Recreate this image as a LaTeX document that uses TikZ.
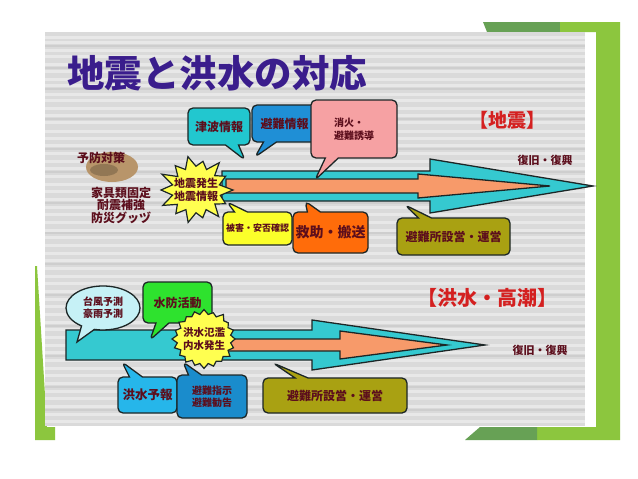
\documentclass[tikz,border=0pt]{standalone}
\usepackage{fontspec}
\newfontfamily\jp{Noto Sans CJK JP}
\usetikzlibrary{shapes.callouts,shapes.geometric}
\definecolor{panel}{HTML}{DADADA}
\definecolor{gdark}{HTML}{67A155}
\definecolor{glight}{HTML}{8CC63E}
\definecolor{ttl}{HTML}{3A1D8C}
\definecolor{redl}{HTML}{D42020}
\definecolor{txt}{HTML}{5C0E1C}
\definecolor{edge}{HTML}{1C2626}
\definecolor{arrcyan}{HTML}{35C9D0}
\definecolor{arrorange}{HTML}{F79A6A}
\definecolor{ccyan}{HTML}{22C7CF}
\definecolor{cblue}{HTML}{1F8FD6}
\definecolor{cpink}{HTML}{F6A1A3}
\definecolor{cyellow}{HTML}{FBFF2A}
\definecolor{corange}{HTML}{FF6C0A}
\definecolor{colive}{HTML}{A9A112}
\definecolor{clcyan}{HTML}{C6F1F6}
\definecolor{cgreen}{HTML}{2EE22E}
\definecolor{csky}{HTML}{26B6EA}
\definecolor{cdblue}{HTML}{1A8CCC}
\definecolor{burstyel}{HTML}{FFFF50}
\definecolor{blob}{HTML}{B8956A}
\newcommand\fsz[2]{\jp\bfseries\fontsize{#1}{#2}\selectfont}
\begin{document}
\begin{tikzpicture}[x=1pt,y=-1pt,
  co/.style={rectangle callout, draw=edge, line width=1.3pt, rounded corners=5pt,
    callout pointer width=13pt, inner sep=1pt, align=center, text=txt},
  eco/.style={ellipse callout, draw=edge, line width=1.3pt,
    callout pointer arc=22, inner sep=1pt, align=center, text=txt},
  arr/.style={draw=edge, line width=1.3pt, line join=miter},
  burst/.style={draw=edge, line width=1.2pt, fill=burstyel, line join=miter},
  lbl/.style={text=txt, align=center, inner sep=0pt},
  red/.style={text=redl, inner sep=0pt}]
\useasboundingbox (0,0) rectangle (638,479);
\fill[white] (0,0) rectangle (638,479);
% green decorations
\fill[gdark] (483,22) -- (560,22) -- (560,32) -- (487,32) -- cycle;
\fill[glight] (560,22) -- (620,22) -- (620,440) -- (537,440) -- (537,427) -- (596,427) -- (596,32) -- (560,32) -- cycle;
\fill[gdark] (480,427) -- (537,427) -- (537,440) -- (465,440) -- cycle;
\fill[glight] (35,266) -- (37,266) -- (47,427) -- (55,427) -- (55,440) -- (35,440) -- cycle;
% panel
\fill[panel] (45,32) rectangle (585,426);
\foreach \yy in {36,41,49,55,63,70,78,84,93,99,107,114,121,130,137,144,152,160,167,175,183,190,198,206,213,221,229,236,244,252,259,267,275,282,290,298,305,313,321,328,336,344,351,359,367,374,382,390,397,405,413,420}
  \fill[white,opacity=0.4] (45,\yy) rectangle (585,{\yy+2.5});
\foreach \yy in {45,67,88,118,148,171,202,232,263,294,325,355,386,409}
  \fill[black,opacity=0.05] (45,\yy) rectangle (585,{\yy+1.5});
% title
\node[anchor=west, inner sep=0pt, text=ttl, font=\fsz{37.5}{40}] (title) at (67,73) {地震と洪水の対応};
% earthquake section labels
\node[red, font=\fsz{19}{22}] (quake) at (507,120) {【地震】};
\node[lbl, font=\fsz{11}{13}] (fukkyu1) at (545,160) {復旧・復興};
\fill[blob] (112,167) ellipse [x radius=26pt, y radius=15pt];
\fill[black!40!blob,opacity=0.5] (104,170) ellipse [x radius=14pt, y radius=6pt];
\node[lbl, font=\fsz{12}{14}] (yobo) at (101,158) {予防対策};
\node[lbl, font=\fsz{12}{12.5}] (kagu) at (121,205) {家具類固定\\耐震補強\\防災グッヅ};
% top arrow
\draw[arr, fill=arrcyan] (222,171) -- (430,171) -- (430,159) -- (593,186) -- (430,213) -- (430,201) -- (222,201) -- cycle;
\draw[arr, fill=arrorange] (226,179) -- (418,179) -- (418,174) -- (550,186) -- (418,198) -- (418,193) -- (226,193) -- cycle;
% top callouts
\node[co, fill=ccyan, minimum width=62pt, minimum height=37pt, font=\fsz{12}{14},
  callout absolute pointer={(245,160)}] (tsunami) at (219,126.5) {津波情報};
\node[co, fill=cblue, minimum width=65pt, minimum height=37pt, font=\fsz{12}{14},
  callout absolute pointer={(255,157)}] (hinan) at (284.5,123.5) {避難情報};
\node[co, fill=cpink, minimum width=86pt, minimum height=58pt, font=\fsz{10}{13}, align=left,
  callout absolute pointer={(315,180)}] (shoka) at (354,129) {消火・\\避難誘導};
\node[co, fill=cyellow, minimum width=69pt, minimum height=33pt, font=\fsz{9}{11},
  callout absolute pointer={(227,202)}] (higai) at (257.5,228.5) {被害・安否確認};
\node[co, fill=corange, minimum width=75pt, minimum height=41pt, font=\fsz{14}{16},
  callout absolute pointer={(305,201)}] (kyujo) at (330.5,232.5) {救助・搬送};
\node[co, fill=colive, minimum width=113pt, minimum height=37pt, font=\fsz{12}{14},
  callout absolute pointer={(405,205)}] (hinanjo1) at (453.5,236.5) {避難所設営・運営};
% top starburst
\coordinate (b1) at (196,190);
\begin{scope}[shift={(b1)}, yscale=0.95]
\draw[burst] (0:37) \foreach \a/\r in {13/25, 26/33, 38/24, 51/36, 64/23, 77/30, 90/24, 103/35, 116/23, 129/32, 141/24, 154/37, 167/24, 180/35, 193/24, 206/38, 218/23, 231/33, 244/24, 257/36, 270/25, 283/31, 296/24, 309/37, 321/24, 334/33, 347/24} { -- (\a:\r) } -- cycle;
\end{scope}
\node[lbl, font=\fsz{11}{13}] (jishin) at (b1) {地震発生\\地震情報};
% flood section labels
\node[red, font=\fsz{20}{23}] (flood) at (487,298) {【洪水・高潮】};
\node[lbl, font=\fsz{11}{13}] (fukkyu2) at (540,350) {復旧・復興};
% lower arrow
\draw[arr, fill=arrcyan] (66,330) -- (312,330) -- (312,320) -- (485,345) -- (312,370) -- (312,360) -- (66,360) -- cycle;
\draw[arr, fill=arrorange] (228,339) -- (340,339) -- (340,331) -- (447,345) -- (340,359) -- (340,351) -- (228,351) -- cycle;
% lower callouts
\node[eco, fill=clcyan, minimum width=74pt, minimum height=44pt, font=\fsz{10}{12},
  callout absolute pointer={(77,342)}] (taifu) at (103,308) {台風予測\\豪雨予測};
\node[co, fill=cgreen, minimum width=69pt, minimum height=41pt, font=\fsz{12}{14},
  callout absolute pointer={(150,340)}] (suibo) at (177.5,302.5) {水防活動};
\node[co, fill=csky, minimum width=59pt, minimum height=36pt, font=\fsz{12.5}{14},
  callout absolute pointer={(122,362)}] (yoho) at (147.5,395) {洪水予報};
\node[co, fill=cdblue, minimum width=70pt, minimum height=43pt, font=\fsz{10}{12},
  callout absolute pointer={(183,362)}] (shiji) at (212,396.5) {避難指示\\避難勧告};
\node[co, fill=colive, minimum width=144pt, minimum height=35pt, font=\fsz{12}{14},
  callout absolute pointer={(273,363)}] (hinanjo2) at (335,395.5) {避難所設営・運営};
% lower starburst
\coordinate (b2) at (204,339);
\begin{scope}[shift={(b2)}, yscale=0.92]
\draw[burst] (0:31) \foreach \a/\r in {9/27, 18/31, 27/27, 36/32, 45/27, 54/30, 63/27, 72/31, 81/27, 90/32, 99/27, 108/30, 117/26, 126/31, 135/27, 144/30, 153/26, 162/31, 171/27, 180/32, 189/27, 198/30, 207/26, 216/31, 225/27, 234/30, 243/27, 252/31, 261/27, 270/32, 279/27, 288/30, 297/27, 306/33, 315/28, 324/30, 333/27, 342/31, 351/27} { -- (\a:\r) } -- cycle;
\end{scope}
\node[lbl, font=\fsz{10.5}{12.5}] (hanran) at (b2) {洪水氾濫\\内水発生};
\end{tikzpicture}
\end{document}
